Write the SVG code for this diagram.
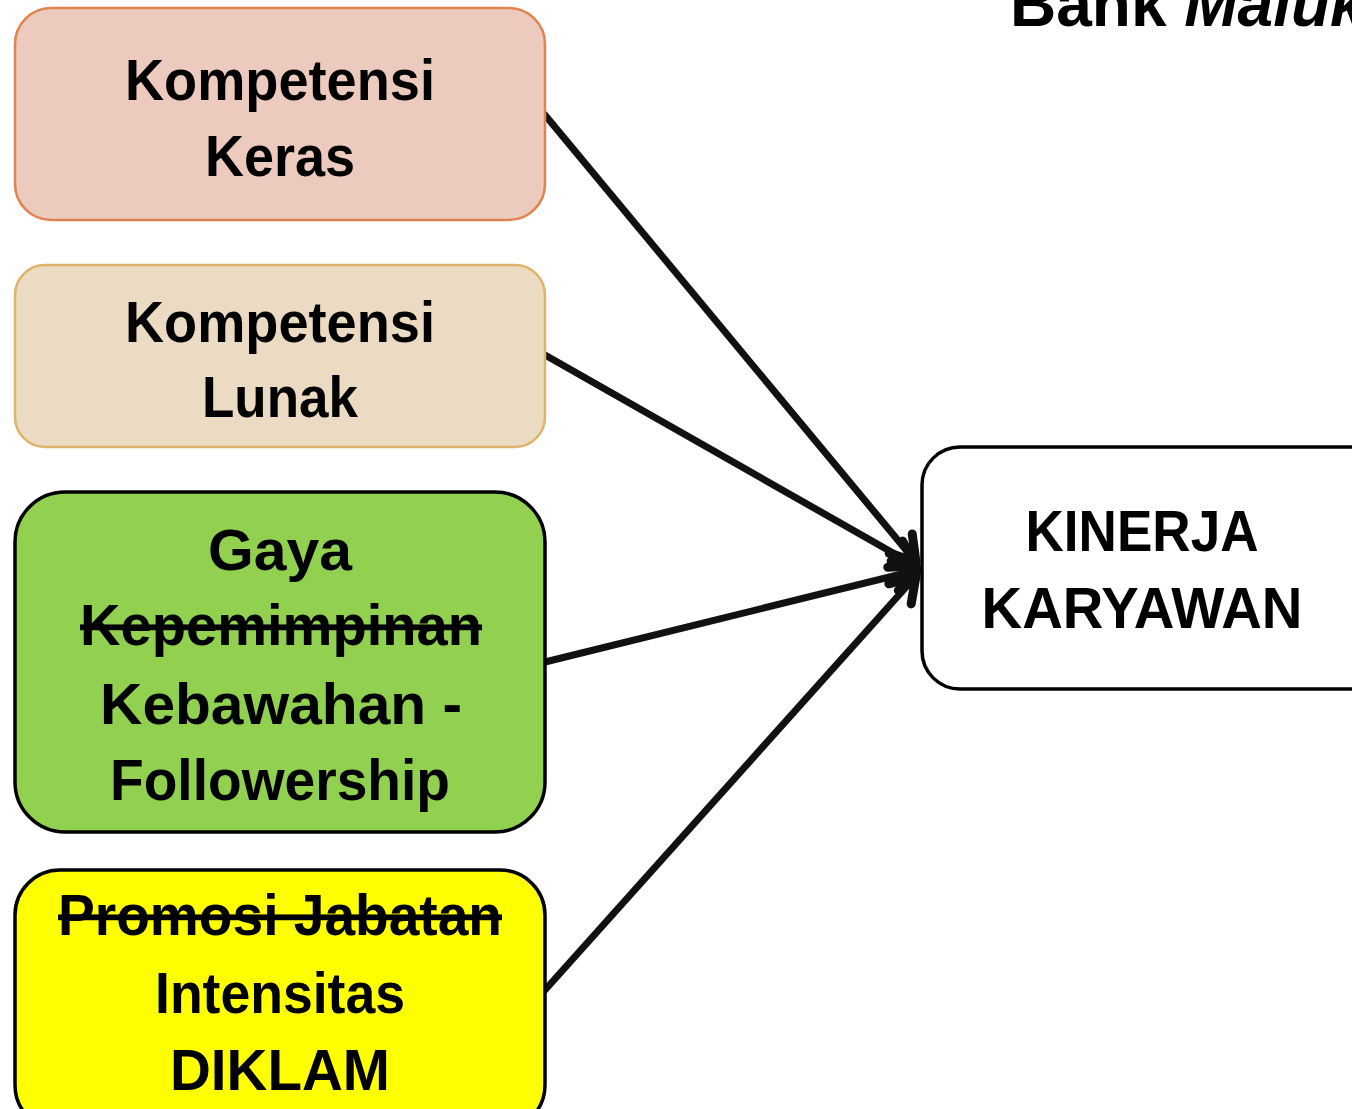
<svg xmlns="http://www.w3.org/2000/svg" width="1352" height="1109" viewBox="0 0 1352 1109">
<style>
text{font-family:"Liberation Sans",Arial,sans-serif;font-weight:bold;fill:#000;text-anchor:middle;font-size:58px}
.strike{text-decoration:line-through}
.conn{stroke:#111;stroke-width:7;fill:none;stroke-linecap:round}
</style>
<defs>
<marker id="arr" markerUnits="userSpaceOnUse" markerWidth="50" markerHeight="50" refX="34" refY="25" orient="auto" viewBox="0 0 50 50">
<path d="M10,10 L34,25 L10,40" fill="none" stroke="#111" stroke-width="9" stroke-linecap="round" stroke-linejoin="round"/>
</marker>
</defs>
<rect width="1352" height="1109" fill="#fff"/>
<g id="title">
<text x="1010" y="26" style="text-anchor:start;font-size:64px">Bank <tspan font-style="italic">Maluku</tspan></text>
</g>
<g id="connectors">
<line class="conn" x1="545" y1="115" x2="916" y2="562" marker-end="url(#arr)"/>
<line class="conn" x1="545" y1="355" x2="916" y2="566" marker-end="url(#arr)"/>
<line class="conn" x1="545" y1="662" x2="918" y2="570" marker-end="url(#arr)"/>
<line class="conn" x1="545" y1="990" x2="916" y2="576" marker-end="url(#arr)"/>
</g>
<g id="node-keras">
<rect x="15" y="8" width="530" height="212" rx="36" fill="#ECCABE" stroke="#E0844F" stroke-width="2.5"/>
<text x="280" y="100" textLength="310" lengthAdjust="spacingAndGlyphs">Kompetensi</text>
<text x="280" y="176" textLength="150" lengthAdjust="spacingAndGlyphs">Keras</text>
</g>
<g id="node-lunak">
<rect x="15" y="265" width="530" height="182" rx="30" fill="#EBDBC3" stroke="#DCB46C" stroke-width="2.5"/>
<text x="280" y="342" textLength="310" lengthAdjust="spacingAndGlyphs">Kompetensi</text>
<text x="280" y="417" textLength="156" lengthAdjust="spacingAndGlyphs">Lunak</text>
</g>
<g id="node-gaya">
<rect x="15" y="492" width="530" height="340" rx="50" fill="#92D050" stroke="#000" stroke-width="3.5"/>
<text x="280" y="570" textLength="144" lengthAdjust="spacingAndGlyphs">Gaya</text>
<text class="strike" x="281" y="645" textLength="402" lengthAdjust="spacingAndGlyphs">Kepemimpinan</text>
<text x="281" y="724" textLength="362" lengthAdjust="spacingAndGlyphs">Kebawahan -</text>
<text x="280" y="800" textLength="340" lengthAdjust="spacingAndGlyphs">Followership</text>
</g>
<g id="node-diklam">
<rect x="15" y="870" width="530" height="260" rx="45" fill="#FFFF00" stroke="#000" stroke-width="3.5"/>
<text class="strike" x="280" y="935" textLength="444" lengthAdjust="spacingAndGlyphs">Promosi Jabatan</text>
<text x="280" y="1013" textLength="250" lengthAdjust="spacingAndGlyphs">Intensitas</text>
<text x="280" y="1090" textLength="220" lengthAdjust="spacingAndGlyphs">DIKLAM</text>
</g>
<g id="node-kinerja">
<rect x="922" y="447" width="470" height="242" rx="38" fill="#fff" stroke="#000" stroke-width="3.5"/>
<text x="1142" y="551" textLength="233" lengthAdjust="spacingAndGlyphs">KINERJA</text>
<text x="1142" y="628" textLength="321" lengthAdjust="spacingAndGlyphs">KARYAWAN</text>
</g>
</svg>
